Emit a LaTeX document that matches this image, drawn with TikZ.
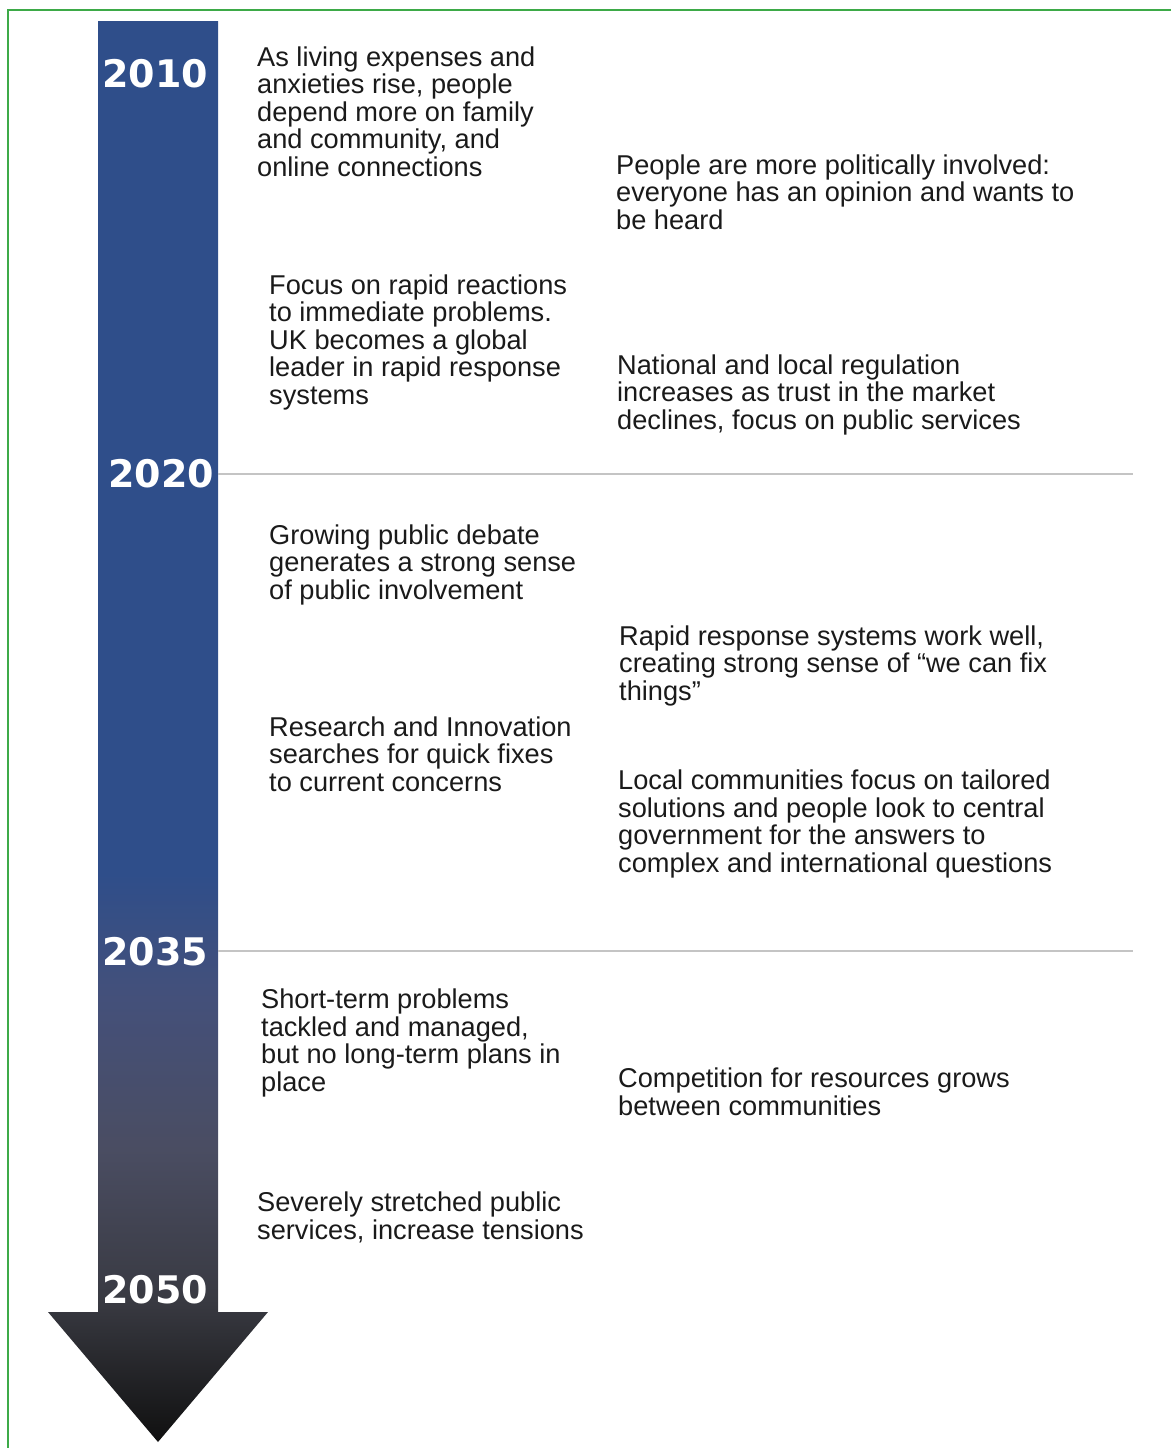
\documentclass[tikz,border=0pt]{standalone}
\usepackage{fontspec}
\setmainfont{Liberation Sans}
\newfontfamily\yearfont{DejaVu Sans}
\usepackage{xcolor}
\usetikzlibrary{positioning}
\definecolor{frame}{HTML}{3DAA48}
\definecolor{shaft}{HTML}{2F4E8A}
\definecolor{steel}{HTML}{44507A}
\definecolor{slate}{HTML}{4A4D62}
\definecolor{dusk}{HTML}{393A42}
\definecolor{tip}{HTML}{101010}
\definecolor{rule}{HTML}{C4C4C4}
\definecolor{ink}{HTML}{1A1A1A}
\pgfdeclareverticalshading{timeline}{100bp}{color(0bp)=(tip); color(25bp)=(tip);
  color(30bp)=(dusk); color(35.3bp)=(slate); color(40.6bp)=(steel);
  color(45bp)=(shaft); color(100bp)=(shaft)}

\begin{document}
\begin{tikzpicture}[x=1pt, y=-1pt,
  year/.style={anchor=base, inner sep=0pt, text=white,
    font=\yearfont\bfseries\fontsize{38}{38}\selectfont},
  event/.style={anchor=base west, inner sep=0pt, align=left, text=ink,
    font=\fontsize{27.2}{27.4}\selectfont},
  divider/.style={rule, line width=2pt}]
\useasboundingbox (0,0) rectangle (1170,1448);
% frame
\draw[frame, line width=1.5pt] (8,1460) -- (8,10) -- (1180,10);
% timeline arrow
\shade[shading=timeline] (98,21) -- (218,21) -- (218,1312) -- (268,1312)
  -- (158,1442) -- (48,1312) -- (98,1312) -- cycle;
% years
\node[year] (y2010) at (155,87) {2010};
\node[year] (y2020) at (161,487) {2020};
\node[year] (y2035) at (155,965) {2035};
\node[year] (y2050) at (155,1303) {2050};
% dividers
\coordinate (d1a) at (218,474);
\coordinate (d1b) at (1133,474);
\coordinate (d2a) at (218,951);
\coordinate (d2b) at (1133,951);
\draw[divider] (d1a) -- (d1b);
\draw[divider] (d2a) -- (d2b);
% 2010--2020 (placed by the baseline of the last line)
\node[event] (costs) at (257,176) {As living expenses and\\ anxieties rise, people\\ depend more on family\\ and community, and\\ online connections};
\node[event] (politics) at (616,229) {People are more politically involved:\\ everyone has an opinion and wants to\\ be heard};
\node[event] (rapid) at (269,404) {Focus on rapid reactions\\ to immediate problems.\\ UK becomes a global\\ leader in rapid response\\ systems};
\node[event] (regulation) at (617,429) {National and local regulation\\ increases as trust in the market\\ declines, focus on public services};
% 2020--2035
\node[event] (debate) at (269,599) {Growing public debate\\ generates a strong sense\\ of public involvement};
\node[event] (fixthings) at (619,700) {Rapid response systems work well,\\ creating strong sense of “we can fix\\ things”};
\node[event] (research) at (269,791) {Research and Innovation\\ searches for quick fixes\\ to current concerns};
\node[event] (local) at (618,872) {Local communities focus on tailored\\ solutions and people look to central\\ government for the answers to\\ complex and international questions};
% 2035--2050
\node[event] (shortterm) at (261,1091) {Short-term problems\\ tackled and managed,\\ but no long-term plans in\\ place};
\node[event] (compete) at (618,1115) {Competition for resources grows\\ between communities};
\node[event] (stretched) at (257,1239) {Severely stretched public\\ services, increase tensions};
\end{tikzpicture}
\end{document}
